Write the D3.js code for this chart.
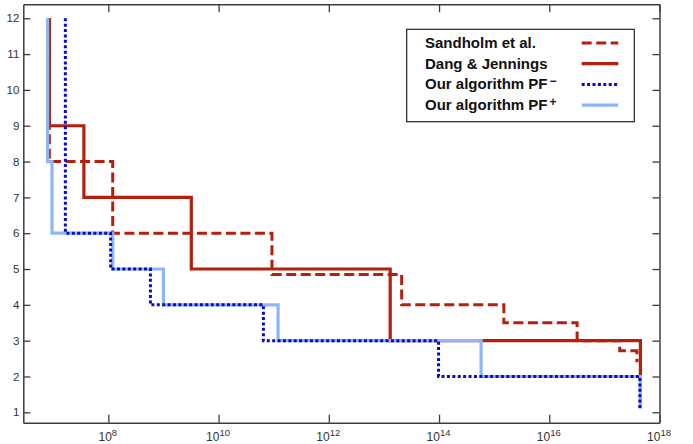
<!DOCTYPE html>
<html>
<head>
<meta charset="utf-8">
<script src="https://cdn.jsdelivr.net/npm/d3@7"></script>
<style>
  body { margin: 0; background: #fff; }
  text { font-family: "Liberation Sans", Arial, sans-serif; }
</style>
</head>
<body>
<script>
let w = 693
let h = 444
let margin = {left: 23.3, right: 33.5, top: 4.3, bottom: 21.3}

// step breakpoints (x is the value on the log axis)
let sandholmX = [8.5e6, 8.5e6, 1.2e8, 9.3e10, 2.1e13, 1.5e15, 3.2e16, 1.9e17, 3.9e17]
let sandholmY = [12, 8, 6, 4.85, 4, 3.5, 3, 2.72, 2.4]

let dangX = [8.5e6, 8.5e6, 3.6e7, 3.2e9, 1.3e13, 4.5e17]
let dangY = [12, 9, 7, 5, 3, 2]

let pfPlusX = [7.9e6, 7.9e6, 9.5e6, 1.2e8, 1e9, 1.2e11, 5.8e14, 4.5e17]
let pfPlusY = [12, 8, 6, 5, 4, 3, 2, 1.1]

let pfMinusX = [1.66e7, 1.66e7, 1.1e8, 5.8e8, 6.5e10, 9.8e13, 4.4e17]
let pfMinusY = [12, 6, 5, 4, 3, 2, 1.07]

let xTicks = [1e8, 1e10, 1e12, 1e14, 1e16, 1e18]
let xTickExp = ["8", "10", "12", "14", "16", "18"]
let yTicks = [1, 2, 3, 4, 5, 6, 7, 8, 9, 10, 11, 12]

let legendNames = ["Sandholm et al.", "Dang & Jennings", "Our algorithm PF", "Our algorithm PF"]
let legendSup = ["", "", "\u2212", "+"]

let red = "#b41f0e"
let darkBlue = "#0a0ac8"
let lightBlue = "#8db6f7"

let series = [
  {xs: sandholmX, ys: sandholmY, color: red, width: 3, dash: "10,4.5"},
  {xs: dangX, ys: dangY, color: red, width: 3.2, dash: null},
  {xs: pfPlusX, ys: pfPlusY, color: lightBlue, width: 3.2, dash: null},
  {xs: pfMinusX, ys: pfMinusY, color: darkBlue, width: 3, dash: "3,2.4"}
]
// legend order differs from drawing order
let legendOrder = [0, 1, 3, 2]

let svg = d3.select("body").append("svg")
  .attr("width", w)
  .attr("height", h)

let xScale = d3.scaleLog()
  .domain([Math.pow(10, 6.457), 1e18])
  .range([margin.left, w - margin.right])

let yScale = d3.scaleLinear()
  .domain([0.71, 12.39])
  .range([h - margin.bottom, margin.top])

let drawAxes = ()=>{
  let bottom = svg.append("g")
    .attr("transform", "translate(0," + (h - margin.bottom) + ")")
    .call(d3.axisBottom(xScale).tickValues(xTicks).tickSize(-8).tickSizeOuter(0).tickPadding(5))
  bottom.selectAll(".tick text").each(function(d, i){
    let t = d3.select(this)
    t.text("")
      .attr("font-size", 12)
      .attr("fill", "#333")
      .attr("dy", "1.1em")
      .attr("dx", "-1")
    t.append("tspan").text("10")
    t.append("tspan").text(xTickExp[i]).attr("font-size", 9.5).attr("dy", "-0.5em")
  })

  svg.append("g")
    .attr("transform", "translate(0," + margin.top + ")")
    .call(d3.axisTop(xScale).tickValues(xTicks).tickSize(-8).tickSizeOuter(0).tickFormat(""))

  svg.append("g")
    .attr("transform", "translate(" + margin.left + ",0)")
    .call(d3.axisLeft(yScale).tickValues(yTicks).tickSize(-7).tickSizeOuter(0).tickPadding(4))
    .selectAll(".tick text")
    .attr("font-size", 11.5)
    .attr("fill", "#333")

  svg.append("g")
    .attr("transform", "translate(" + (w - margin.right) + ",0)")
    .call(d3.axisRight(yScale).tickValues(yTicks).tickSize(-7).tickSizeOuter(0).tickFormat(""))

  svg.selectAll(".domain").attr("stroke", "#3c3c3c").attr("stroke-width", 1.5)
  svg.selectAll(".tick line").attr("stroke", "#3c3c3c").attr("stroke-width", 1.3)
}

let drawLines = ()=>{
  let line = d3.line()
    .x(d => xScale(d[0]))
    .y(d => yScale(d[1]))
    .curve(d3.curveStepAfter)

  series.forEach(s=>{
    let pts = s.xs.map((x, i) => [x, s.ys[i]])
    svg.append("path")
      .datum(pts)
      .attr("d", line)
      .attr("fill", "none")
      .attr("stroke", s.color)
      .attr("stroke-width", s.width)
      .attr("stroke-dasharray", s.dash)
      .attr("stroke-linecap", "butt")
  })
}

let drawLegend = ()=>{
  let legend = svg.append("g").attr("id", "legend")

  legend.append("rect")
    .attr("x", 406.7)
    .attr("y", 29.3)
    .attr("width", 227.6)
    .attr("height", 92.4)
    .attr("fill", "white")
    .attr("stroke", "#222")
    .attr("stroke-width", 1.2)

  legendOrder.forEach((si, i)=>{
    let cy = 43 + i * 20.7
    let s = series[si]
    let t = legend.append("text")
      .attr("x", 425)
      .attr("y", cy + 5)
      .attr("font-size", 15)
      .attr("font-weight", "bold")
      .attr("fill", "#111")
    t.append("tspan").text(legendNames[i])
    if(legendSup[i] !== ""){
      t.append("tspan")
        .text(legendSup[i])
        .attr("font-size", 12)
        .attr("dx", 2)
        .attr("dy", -4)
    }
    legend.append("line")
      .attr("x1", 581.7)
      .attr("x2", 618.3)
      .attr("y1", cy)
      .attr("y2", cy)
      .attr("stroke", s.color)
      .attr("stroke-width", s.width)
      .attr("stroke-dasharray", s.dash)
  })
}

drawAxes()
drawLines()
drawLegend()
</script>
</body>
</html>
